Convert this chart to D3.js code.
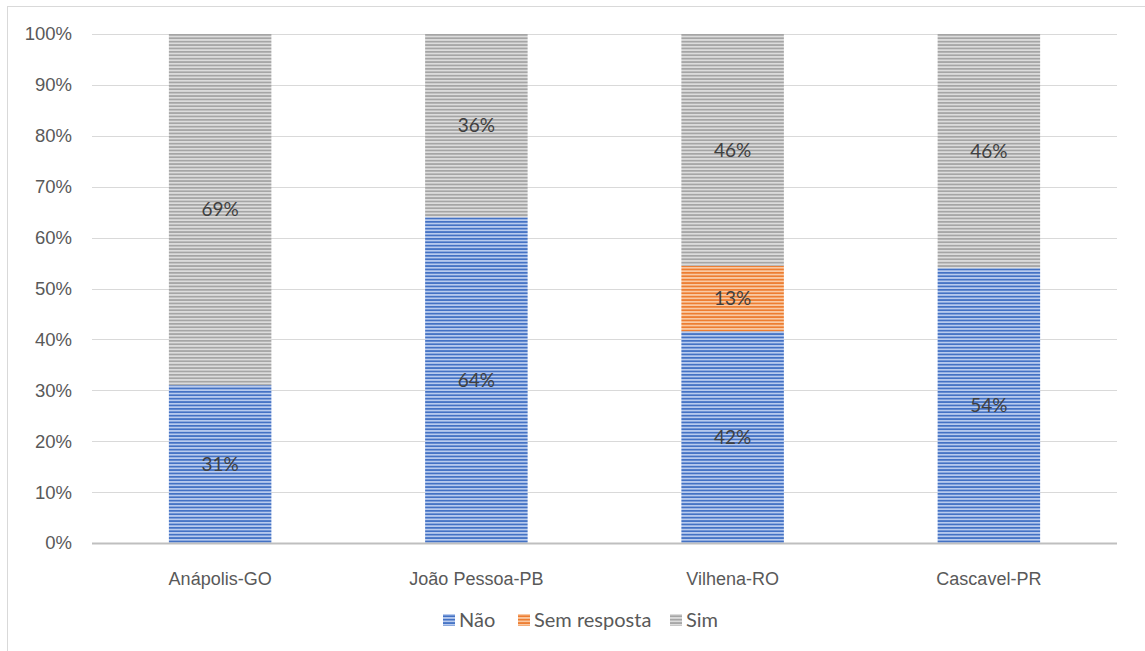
<!DOCTYPE html>
<html>
<head>
<meta charset="utf-8">
<script src="https://cdn.jsdelivr.net/npm/d3@7/dist/d3.min.js"></script>
<style>
  html, body { margin: 0; padding: 0; background: #fff; }
  svg { display: block; font-family: Lato, "Open Sans", "Noto Sans", sans-serif; }
</style>
</head>
<body>
<svg id="chart" width="1145" height="651"></svg>
<script>
// Categories and series (percentage of responses per city)
const cities = ["Anápolis-GO", "João Pessoa-PB", "Vilhena-RO", "Cascavel-PR"];
const seriesNames = ["Não", "Sem resposta", "Sim"];
const nao = [31, 64, 42, 54];
const semResposta = [0, 0, 13, 0];
const sim = [69, 36, 46, 46];
const yTicks = [0, 0.1, 0.2, 0.3, 0.4, 0.5, 0.6, 0.7, 0.8, 0.9, 1.0];

const palette = {
  "Não": { light: "#b8cbee", dark: "#4472c4" },
  "Sem resposta": { light: "#f9c9a3", dark: "#ed7d31" },
  "Sim": { light: "#dcdcdc", dark: "#a5a5a5" }
};

const rows = cities.map((c, i) => ({
  city: c,
  "Não": nao[i],
  "Sem resposta": semResposta[i],
  "Sim": sim[i]
}));

const svg = d3.select("#chart");
const W = 1145, H = 651;
const margin = { left: 92, right: 28, top: 34, bottom: 108 };

// outer chart frame
svg.append("rect")
  .attr("x", 7.5).attr("y", 6.5)
  .attr("width", W + 10).attr("height", H + 10)
  .attr("fill", "#fff").attr("stroke", "#d9d9d9").attr("stroke-width", 1);

// striped fills
const defs = svg.append("defs");
seriesNames.forEach((s, i) => {
  const p = defs.append("pattern")
    .attr("id", "stripe" + i)
    .attr("patternUnits", "userSpaceOnUse")
    .attr("width", 8).attr("height", 3.4);
  p.append("rect").attr("width", 8).attr("height", 3.4).attr("fill", palette[s].light);
  p.append("rect").attr("y", 0).attr("width", 8).attr("height", 1.7).attr("fill", palette[s].dark);
});

const x = d3.scaleBand()
  .domain(cities)
  .range([margin.left, W - margin.right])
  .paddingInner(0.6)
  .paddingOuter(0.3);

const y = d3.scaleLinear()
  .domain([0, 1])
  .range([H - margin.bottom, margin.top]);

// gridlines
svg.append("g")
  .selectAll("line")
  .data(yTicks.slice(1))
  .join("line")
  .attr("x1", margin.left).attr("x2", W - margin.right)
  .attr("y1", d => Math.round(y(d)) + 0.5).attr("y2", d => Math.round(y(d)) + 0.5)
  .attr("stroke", "#d9d9d9").attr("stroke-width", 1);

// y axis labels
const yAxis = d3.axisLeft(y)
  .tickValues(yTicks)
  .tickFormat(d3.format(".0%"))
  .tickSize(0)
  .tickPadding(20);
const yg = svg.append("g")
  .attr("transform", `translate(${margin.left},0)`)
  .call(yAxis);
yg.select(".domain").remove();
yg.selectAll("text")
  .attr("fill", "#595959")
  .style("font-size", "18.5px");

// stacked bars, normalised to 100%
const stack = d3.stack().keys(seriesNames).offset(d3.stackOffsetExpand);
const layers = stack(rows);

const layerG = svg.append("g")
  .selectAll("g")
  .data(layers)
  .join("g")
  .attr("fill", (d, i) => `url(#stripe${i})`);

layerG.selectAll("rect")
  .data(d => d.map(v => ({ v, key: d.key })))
  .join("rect")
  .attr("x", d => x(d.v.data.city))
  .attr("width", x.bandwidth())
  .attr("y", d => y(d.v[1]))
  .attr("height", d => Math.max(0, y(d.v[0]) - y(d.v[1])));

// value labels
const labelData = [];
layers.forEach(layer => {
  layer.forEach(v => {
    const val = v.data[layer.key];
    if (val > 0) labelData.push({ city: v.data.city, val, mid: (v[0] + v[1]) / 2 });
  });
});
svg.append("g")
  .selectAll("text")
  .data(labelData)
  .join("text")
  .attr("x", d => x(d.city) + x.bandwidth() / 2)
  .attr("y", d => y(d.mid))
  .attr("dy", "0.35em")
  .attr("text-anchor", "middle")
  .attr("fill", "#404040")
  .style("font-size", "19px")
  .text(d => d.val + "%");

// x axis
svg.append("line")
  .attr("x1", margin.left).attr("x2", W - margin.right)
  .attr("y1", y(0) + 0.5).attr("y2", y(0) + 0.5)
  .attr("stroke", "#bfbfbf").attr("stroke-width", 2);

const xAxis = d3.axisBottom(x).tickSize(0).tickPadding(29);
const xg = svg.append("g")
  .attr("transform", `translate(0,${y(0)})`)
  .call(xAxis);
xg.select(".domain").remove();
xg.selectAll("text")
  .attr("fill", "#595959")
  .style("font-size", "18px");

// legend
const legendItems = [
  { name: "Não", x: 443 },
  { name: "Sem resposta", x: 518 },
  { name: "Sim", x: 670 }
];
const lg = svg.append("g");
legendItems.forEach((it, i) => {
  lg.append("rect")
    .attr("x", it.x).attr("y", 614)
    .attr("width", 12).attr("height", 12)
    .attr("fill", `url(#stripe${seriesNames.indexOf(it.name)})`);
  lg.append("text")
    .attr("x", it.x + 16).attr("y", 620)
    .attr("dy", "0.35em")
    .attr("fill", "#595959")
    .style("font-size", "20px")
    .text(it.name);
});
</script>
</body>
</html>
